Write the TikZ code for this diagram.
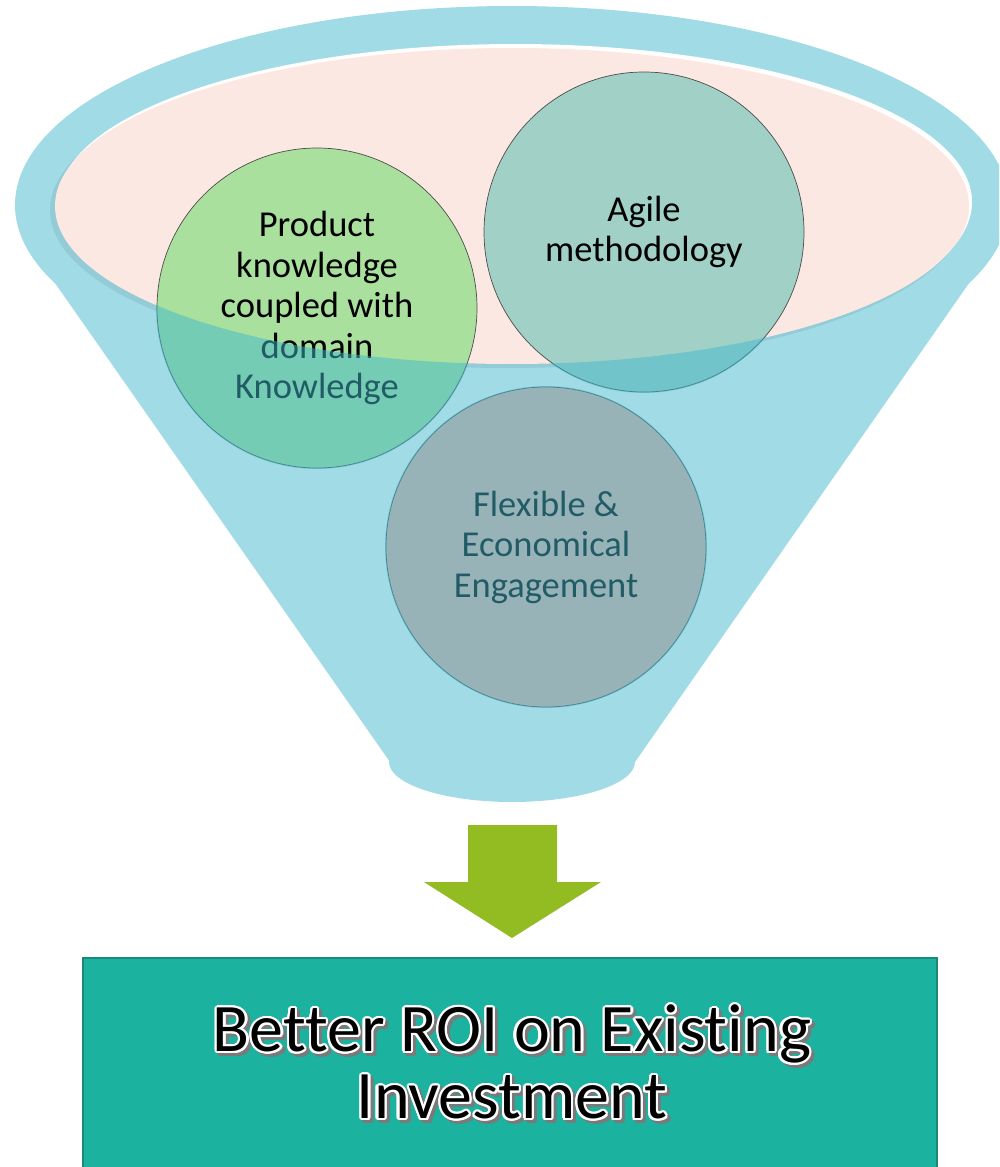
\documentclass[tikz,border=0pt]{standalone}
\usepackage{fontspec}
\setmainfont[Ligatures=NoCommon]{Carlito}
\usepackage{contour}
\contourlength{2.2pt}
\definecolor{funnelblue}{HTML}{A1DCE6}
\definecolor{ovlcol}{RGB}{67,185,205}
\definecolor{rimpink}{HTML}{FBE8E2}
\definecolor{rimshadow}{HTML}{93CBD6}
\definecolor{prodgreen}{HTML}{A9E09E}
\definecolor{agileteal}{HTML}{A0D0C6}
\definecolor{flexcol}{RGB}{236,174,164}
\definecolor{arrowgreen}{HTML}{93BC22}
\definecolor{boxfill}{HTML}{1BB2A0}
\definecolor{boxedge}{HTML}{178A7A}
\definecolor{shadowgray}{HTML}{7A7A7A}
\tikzset{
  bubble/.style={circle, draw=black!70, line width=0.7pt, minimum size=320pt, inner sep=0pt,
    align=center, font=\fontsize{36.5}{40.5}\selectfont, text=black},
  roitext/.style={align=center, font=\fontsize{68}{67}\selectfont}
}
\begin{document}
\begin{tikzpicture}[x=1pt,y=-1pt]
\useasboundingbox (0,0) rectangle (999,1167);
\clip (0,0) rectangle (999,1167);
% funnel body
\fill[funnelblue] (512,205) ellipse [x radius=497, y radius=199];
\fill[funnelblue] (20,233) -- (1004,233) -- (635,762) -- (390,762) -- cycle;
\fill[funnelblue] (512,762) ellipse [x radius=123, y radius=40];
% rim of funnel
\fill[rimshadow] (508,210) ellipse [x radius=458, y radius=158];
\fill[white] (515,202) ellipse [x radius=457, y radius=158];
\fill[rimpink] (512,206) ellipse [x radius=457, y radius=158];
% bubbles
\node[bubble, fill=prodgreen] (prod) at (317,308) {Product\\knowledge\\coupled with\\domain\\Knowledge};
\node[bubble, fill=agileteal] (agile) at (644,232) {Agile\\methodology};
\node[bubble, fill=flexcol] (flex) at (546,547) {Flexible \&\\Economical\\Engagement};
% funnel overlay on bubbles below the rim
\foreach \n in {prod,agile,flex}{
  \begin{scope}
    \clip (\n.center) circle [radius=161];
    \fill[ovlcol, opacity=0.5, even odd rule] (0,0) rectangle (999,900)
      (512,206) ellipse [x radius=457, y radius=158];
  \end{scope}
}
% arrow
\fill[arrowgreen] (468,825) -- (557,825) -- (557,882) -- (601,882) -- (512,938)
  -- (424,882) -- (468,882) -- cycle;
% result box
\node[draw=boxedge, line width=1.5pt, fill=boxfill, minimum width=854pt, minimum height=240pt,
  anchor=north, inner sep=0pt] (box) at (510,957) {};
\node[roitext, text=shadowgray] (roishadow) at (515,1066)
  {\contour{shadowgray}{Better ROI on Existing}\\\contour{shadowgray}{Investment}};
\node[roitext, text=black] (roi) at (512,1063)
  {\contour{white}{Better ROI on Existing}\\\contour{white}{Investment}};
\end{tikzpicture}
\end{document}
